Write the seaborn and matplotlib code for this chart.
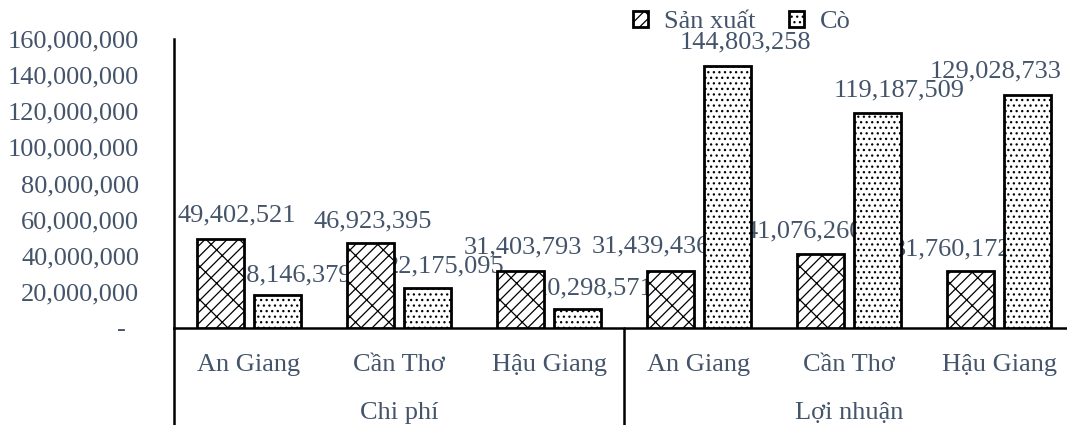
import matplotlib
matplotlib.use("Agg")
import matplotlib.pyplot as plt
from matplotlib.patches import Patch
import pandas as pd
import seaborn as sns

# Values (VND)
groups = ["Chi phí", "Lợi nhuận"]
provinces = ["An Giang", "Cần Thơ", "Hậu Giang"]
series_names = ["Sản xuất", "Cò"]
san_xuat = [49402521, 46923395, 31403793, 31439436, 41076260, 31760172]
co = [18146379, 22175095, 10298571, 144803258, 119187509, 129028733]
y_ticks = [0, 20000000, 40000000, 60000000, 80000000, 100000000,
           120000000, 140000000, 160000000]

# Label placement (pixel offsets of each label's centre from its bar top)
label_dx = [[16, 2, 2, -20, -17, -18], [15, 18, 17, 18, 22, -32]]
label_dy = [[26, 25, 27, 28, 25, 24], [23, 24, 24, 27, 25, 26]]

TEXT = "#44546A"
FS = 19

sns.set_theme(style="white")
plt.rcParams["font.family"] = ["Liberation Serif", "DejaVu Serif"]
plt.rcParams["hatch.linewidth"] = 0.9

keys = [f"{g}|{p}" for g in groups for p in provinces]
df = pd.DataFrame({
    "key": keys * 2,
    "series": [series_names[0]] * 6 + [series_names[1]] * 6,
    "value": san_xuat + co,
})

fig = plt.figure(figsize=(10.67, 4.25), dpi=100)
ax = fig.add_axes([174 / 1067, 97 / 425, 893 / 1067, 289 / 425])

sns.barplot(data=df, x="key", y="value", hue="series", order=keys,
            hue_order=series_names, palette=["white", "white"],
            saturation=1, edgecolor="black", linewidth=2.0,
            width=0.76, gap=0.18, errorbar=None, legend=False, ax=ax)

hatches = ["///\\", "..."]
for ci, cont in enumerate(ax.containers):
    for bi, bar in enumerate(cont):
        bar.set_hatch(hatches[ci])
        bar.set_zorder(3)
        v = bar.get_height()
        ax.annotate(f"{int(round(v)):,}",
                    xy=(bar.get_x() + bar.get_width() / 2, v),
                    xytext=(label_dx[ci][bi], label_dy[ci][bi] - 9),
                    textcoords="offset pixels", ha="center", va="baseline",
                    fontsize=FS, color=TEXT, zorder=2, annotation_clip=False)

ax.set_xlim(-0.5, -0.5 + 893 / 150)
ax.set_ylim(0, 160000000)
ax.set_yticks(y_ticks)
ax.set_yticklabels([f"{t:,}" if t else "-  " for t in y_ticks])
ax.tick_params(axis="y", length=0, pad=25, labelsize=FS, labelcolor=TEXT)
ax.set_xticks([])
ax.set_xlabel("")
ax.set_ylabel("")

for side in ["top", "right"]:
    ax.spines[side].set_visible(False)
for side in ["left", "bottom"]:
    ax.spines[side].set_color("black")
    ax.spines[side].set_linewidth(1.8)

# Two-level category axis
trans = ax.get_xaxis_transform()
y_cat = -(371 - 328) / 289
y_grp = -(419 - 328) / 289
y_end = -(425 - 328) / 289 - 0.01
for gi, g in enumerate(groups):
    for pi, p in enumerate(provinces):
        ax.text(gi * 3 + pi, y_cat, p, transform=trans, ha="center",
                va="baseline", fontsize=FS, color=TEXT)
    ax.text(gi * 3 + 1, y_grp, g, transform=trans, ha="center",
            va="baseline", fontsize=FS, color=TEXT)
for xs in [-0.5, 2.5, 5.5]:
    ax.plot([xs, xs], [0, y_end], transform=trans, color="black",
            lw=1.8, clip_on=False)

handles = [Patch(facecolor="white", edgecolor="black", hatch=h, lw=2.0)
           for h in hatches]
fig.legend(handles, series_names, loc="center",
           bbox_to_anchor=(742 / 1067, 1 - 22 / 425), ncol=2, frameon=False,
           fontsize=FS, labelcolor=TEXT, handlelength=0.55,
           handleheight=0.55, handletextpad=0.6, columnspacing=1.3,
           borderpad=0, borderaxespad=0)

fig.savefig("out.png", dpi=100)
